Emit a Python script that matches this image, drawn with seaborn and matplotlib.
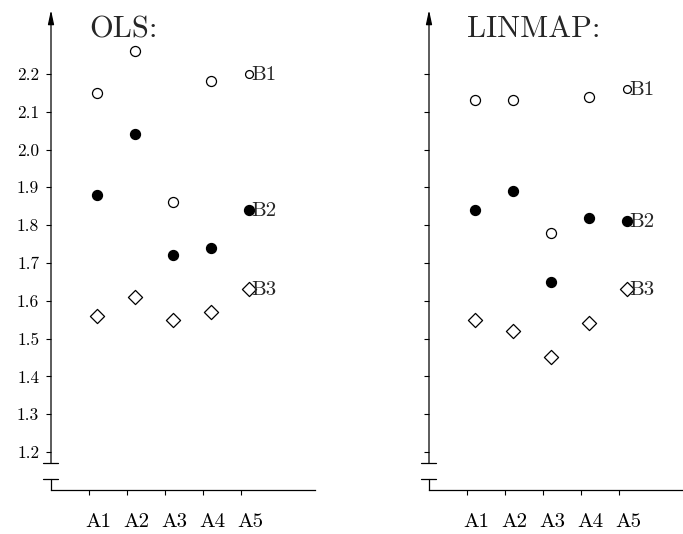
import numpy as np
import pandas as pd
import matplotlib.pyplot as plt
import seaborn as sns
from matplotlib.transforms import offset_copy

sns.set_theme(style="white")
plt.rcParams["font.family"] = ["cmr10", "DejaVu Serif"]
plt.rcParams["axes.formatter.use_mathtext"] = True
plt.rcParams["mathtext.fontset"] = "cm"

# data
levels = ["A1", "A2", "A3", "A4", "A5"]
series = ["B1", "B2", "B3"]
ols_b1 = [2.15, 2.26, 1.86, 2.18, 2.20]
ols_b2 = [1.88, 2.04, 1.72, 1.74, 1.84]
ols_b3 = [1.56, 1.61, 1.55, 1.57, 1.63]
linmap_b1 = [2.13, 2.13, 1.78, 2.14, 2.16]
linmap_b2 = [1.84, 1.89, 1.65, 1.82, 1.81]
linmap_b3 = [1.55, 1.52, 1.45, 1.54, 1.63]
ytick_vals = [1.2, 1.3, 1.4, 1.5, 1.6, 1.7, 1.8, 1.9, 2.0, 2.1, 2.2]

panels = {
    "OLS:": [ols_b1, ols_b2, ols_b3],
    "LINMAP:": [linmap_b1, linmap_b2, linmap_b3],
}

styles = {
    "B1": dict(marker="o", facecolor="white", edgecolor="black"),
    "B2": dict(marker="o", facecolor="black", edgecolor="black"),
    "B3": dict(marker="D", facecolor="white", edgecolor="black"),
}

W, H = 683, 534
fig = plt.figure(figsize=(W / 100, H / 100), dpi=100)

ax_left = [51, 429]
ax_w, ax_bottom, ax_top = 264, 490, 10
xpos = np.arange(1, len(levels) + 1)
shift = 0.2

for i, (title, vals) in enumerate(panels.items()):
    ax = fig.add_axes([ax_left[i] / W, (H - ax_bottom) / H,
                       ax_w / W, (ax_bottom - ax_top) / H])
    rows = []
    for s, v in zip(series, vals):
        for lv, xp, y in zip(levels, xpos, v):
            rows.append({"series": s, "level": lv, "x": xp + shift, "value": y})
    df = pd.DataFrame(rows)

    for s in series:
        st = styles[s]
        sub = df[df["series"] == s]
        main = sub[sub["level"] != "A5"]
        key = sub[sub["level"] == "A5"]
        sns.scatterplot(data=main, x="x", y="value", ax=ax, marker=st["marker"],
                        s=52, facecolor=st["facecolor"], edgecolor=st["edgecolor"],
                        linewidth=0.9, legend=False, clip_on=False)
        # the A5 points double as a key, B1 drawn a bit smaller there
        ksize = 32 if s == "B1" else 52
        sns.scatterplot(data=key, x="x", y="value", ax=ax, marker=st["marker"],
                        s=ksize, facecolor=st["facecolor"], edgecolor=st["edgecolor"],
                        linewidth=0.9, legend=False, clip_on=False)
        kx = key["x"].iloc[0]
        ky = key["value"].iloc[0]
        ax.text(kx, ky, s, transform=offset_copy(ax.transData, fig, x=3, y=-1, units="dots"),
                ha="left", va="center", fontsize=15)

    ax.set_xlim(0, 6.95)
    ax.set_ylim(1.0995, 2.369)
    ax.set_xlabel("")
    ax.set_ylabel("")

    ax.set_xticks(xpos)
    ax.set_xticklabels(levels, fontsize=15)
    ax.set_yticks(ytick_vals)
    if i == 0:
        ax.set_yticklabels([f"{v:.1f}" for v in ytick_vals], fontsize=12.5)
    else:
        ax.set_yticklabels([])
    ax.tick_params(axis="x", direction="out", length=3.5, width=0.8, pad=13, colors="black")
    ax.tick_params(axis="y", direction="out", length=3.5, width=0.8, pad=5, colors="black")
    ax.tick_params(bottom=True, left=True)

    for side in ["top", "right", "left"]:
        ax.spines[side].set_visible(False)
    ax.spines["bottom"].set_color("black")
    ax.spines["bottom"].set_linewidth(0.9)

    # y axis with break and arrow
    y_lo = (ax_bottom - 479) / (ax_bottom - ax_top)
    y_hi = (ax_bottom - 463) / (ax_bottom - ax_top)
    ax.plot([0, 0], [0, y_lo], color="black", lw=0.9, transform=ax.transAxes, clip_on=False)
    ax.annotate("", xy=(0, 1), xycoords="axes fraction", xytext=(0, y_hi),
                textcoords="axes fraction",
                arrowprops=dict(arrowstyle="-|>,head_length=0.7,head_width=0.15",
                                color="black", lw=0.9, shrinkA=0, shrinkB=0))
    for yb in [y_lo, y_hi]:
        ax.plot([-8 / ax_w, 7 / ax_w], [yb, yb], color="black", lw=0.9,
                transform=ax.transAxes, clip_on=False)

    ax.text(1, 2.37, title, ha="left", va="top", fontsize=22,
            transform=offset_copy(ax.transData, fig, x=0, y=-6, units="dots"))

# shift x tick labels to the right of their ticks
for ax in fig.axes:
    for lab in ax.get_xticklabels():
        lab.set_transform(offset_copy(lab.get_transform(), fig, x=9, y=0, units="dots"))

fig.savefig("out.png", dpi=100)
